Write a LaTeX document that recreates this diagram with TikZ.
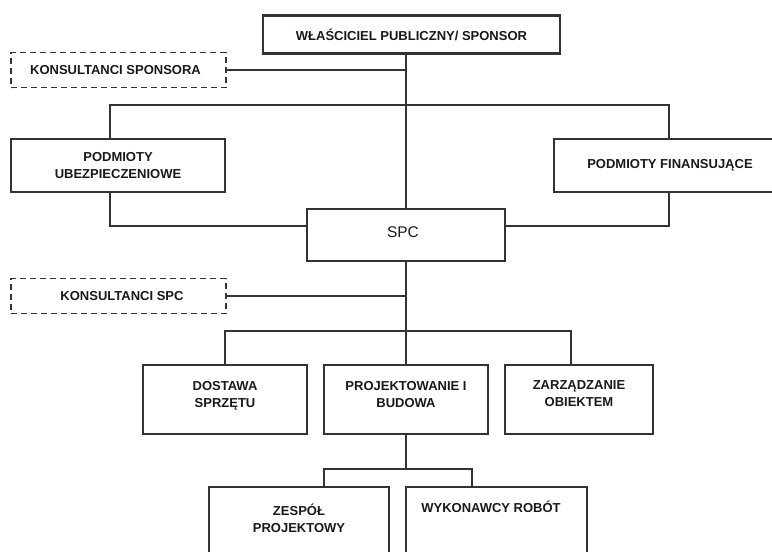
\documentclass[tikz,border=0pt]{standalone}
\usepackage{fontspec}
\setmainfont{Liberation Sans}
\begin{document}
\begin{tikzpicture}[x=1pt,y=-1pt,
  box/.style={draw=black!80, line width=1.3pt, rectangle, inner sep=0pt,
    align=center, font=\fontsize{13}{17}\selectfont\bfseries, text=black!90},
  headbox/.style={box, line width=2.4pt},
  consult/.style={box, dash pattern=on 6pt off 4pt},
  link/.style={draw=black!80, line width=1.3pt},
  lbl/.style={inner sep=0pt, align=center, font=\fontsize{13}{17}\selectfont\bfseries, text=black!90}]
\useasboundingbox (0,0) rectangle (772,552);
\clip (0,0) rectangle (772,552);

% boxes
\node[headbox, minimum width=297pt, minimum height=38pt] (owner) at (411.5,34.5) {WŁAŚCICIEL PUBLICZNY/ SPONSOR};
\node[consult, minimum width=215pt, minimum height=35pt] (ksp) at (118.5,70) {KONSULTANCI SPONSORA\hspace*{6pt}};
\node[box, minimum width=214pt, minimum height=53pt] (pu) at (118,165.5) {PODMIOTY\\UBEZPIECZENIOWE};
\node[box, minimum width=232pt, minimum height=53pt] (pf) at (670,165.5) {PODMIOTY FINANSUJĄCE};
\node[box, minimum width=198pt, minimum height=52pt, font=\fontsize{15.5}{17}\selectfont] (spc) at (406,235) {SPC\hspace*{6pt}\\[-11pt]};
\node[consult, minimum width=215pt, minimum height=35pt] (kspc) at (118.5,296) {\hspace*{7pt}KONSULTANCI SPC};
\node[box, minimum width=164pt, minimum height=69pt] (dost) at (225,399.5) {DOSTAWA\\SPRZĘTU\\[-6pt]};
\node[box, minimum width=164pt, minimum height=69pt] (proj) at (406,399.5) {PROJEKTOWANIE I\\BUDOWA\\[-6pt]};
\node[box, minimum width=148pt, minimum height=69pt] (zarz) at (579,399.5) {ZARZĄDZANIE\\OBIEKTEM\\[-6pt]};
\node[box, minimum width=180pt, minimum height=133pt] (zesp) at (299,553.5) {};
\node[box, minimum width=181pt, minimum height=133pt] (wyk) at (496.5,553.5) {};
\node[lbl] (zesptxt) at (299,518.5) {ZESPÓŁ\\PROJEKTOWY};
\node[lbl] (wyktxt) at (491,507) {WYKONAWCY ROBÓT};

% junction points of the connector buses
\coordinate (jA) at (110,105);
\coordinate (jB) at (669,105);
\coordinate (jC) at (110,226);
\coordinate (jD) at (669,226);
\coordinate (jE) at (225,331);
\coordinate (jF) at (571,331);
\coordinate (jH) at (324,469);
\coordinate (jI) at (472,469);

% connectors
\draw[link] (owner.south -| spc.north) -- (spc.north);
\draw[link] (ksp.east) -- (ksp.east -| spc.north);
\draw[link] (jA |- pu.north) -- (jA) -- (jB) -- (jB |- pf.north);
\draw[link] (jA |- pu.south) -- (jC) -- (jC -| spc.west);
\draw[link] (jC -| spc.east) -- (jD) -- (jD |- pf.south);
\draw[link] (spc.south) -- (proj.north);
\draw[link] (kspc.east) -- (kspc.east -| spc.south);
\draw[link] (dost.north) -- (jE) -- (jF) -- (jF |- zarz.north);
\draw[link] (proj.south) -- (proj.south |- jH);
\draw[link] (jH |- zesp.north) -- (jH) -- (jI) -- (jI |- wyk.north);
\end{tikzpicture}
\end{document}
